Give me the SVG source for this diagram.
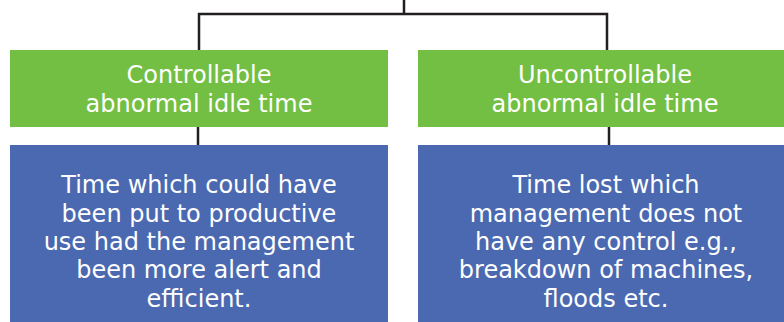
<svg xmlns="http://www.w3.org/2000/svg" width="784" height="322" viewBox="0 0 784 322">
  <style>
    .head { fill: #72bf44; }
    .body { fill: #4b69b0; }
    .lbl { font-family: "DejaVu Sans", "Liberation Sans", sans-serif; font-size: 24px; fill: #ffffff; text-anchor: middle; }
    .wire { fill: none; stroke: #231f20; stroke-width: 2.5; }
  </style>
  <rect width="784" height="322" fill="#ffffff"/>
  <g id="connectors">
    <path class="wire" d="M404 0 V14 M199 50 V14 H607 V50"/>
    <path class="wire" d="M198 127 V145"/>
    <path class="wire" d="M609 127 V145"/>
  </g>
  <g id="controllable">
    <rect class="head" x="10" y="50" width="378" height="77"/>
    <text class="lbl" x="199" y="83">Controllable</text>
    <text class="lbl" x="199" y="112">abnormal idle time</text>
  </g>
  <g id="uncontrollable">
    <rect class="head" x="418" y="50" width="366" height="77"/>
    <text class="lbl" x="605" y="83">Uncontrollable</text>
    <text class="lbl" x="605" y="112">abnormal idle time</text>
  </g>
  <g id="controllable-desc">
    <rect class="body" x="10" y="145" width="378" height="177"/>
    <text class="lbl" x="199" y="193">Time which could have</text>
    <text class="lbl" x="199" y="222">been put to productive</text>
    <text class="lbl" x="199" y="250">use had the management</text>
    <text class="lbl" x="199" y="278">been more alert and</text>
    <text class="lbl" x="199" y="307">efficient.</text>
  </g>
  <g id="uncontrollable-desc">
    <rect class="body" x="418" y="145" width="366" height="177"/>
    <text class="lbl" x="606" y="193">Time lost which</text>
    <text class="lbl" x="606" y="222">management does not</text>
    <text class="lbl" x="606" y="250">have any control e.g.,</text>
    <text class="lbl" x="606" y="278">breakdown of machines,</text>
    <text class="lbl" x="606" y="307">floods etc.</text>
  </g>
</svg>
